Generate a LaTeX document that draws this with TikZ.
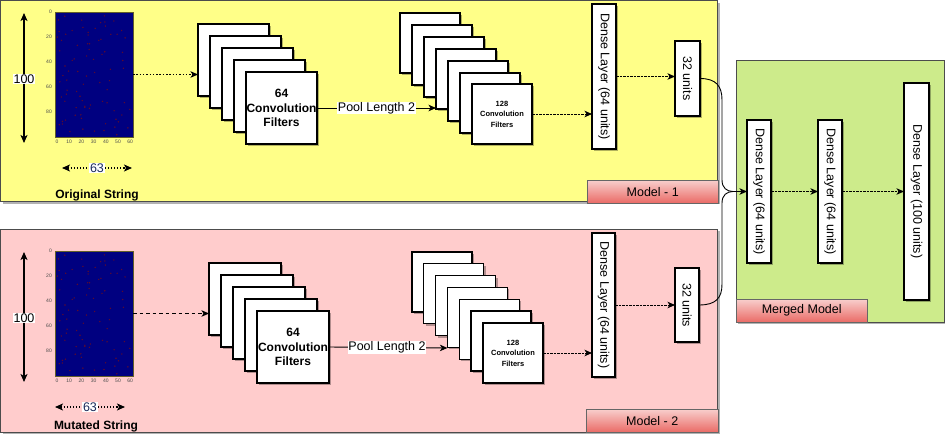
\documentclass[tikz,border=0pt]{standalone}
\usepackage{fontspec}
\setmainfont{Liberation Sans}
\usetikzlibrary{arrows.meta,shadows}
\definecolor{ylw}{HTML}{FFFF88}
\definecolor{pnk}{HTML}{FFCCCC}
\definecolor{grn}{HTML}{CDEB8B}
\definecolor{hmnavy}{HTML}{000080}
\definecolor{dred}{HTML}{5A0A30}
\definecolor{lbltop}{HTML}{F8CECC}
\definecolor{lblbot}{HTML}{EA6B66}
\definecolor{numblue}{HTML}{1A2A5A}
\newcommand\fmain{\fontsize{12.5}{14}\selectfont}
\newcommand\fbold{\fontsize{12}{14.5}\selectfont\bfseries}
\newcommand\fsmall{\fontsize{7.5}{10.5}\selectfont\bfseries}
\newcommand\ftick{\fontsize{5}{6}\selectfont}
\begin{document}
\begin{tikzpicture}[x=1pt,y=-1pt,
  panel/.style={draw=black!70, line width=0.9pt, anchor=north west, inner sep=0pt, outer sep=0pt,
    drop shadow={shadow xshift=2pt, shadow yshift=-2pt, fill=black, opacity=0.3}},
  cbox/.style={draw=black, fill=white, line width=1.1pt, anchor=north west, inner sep=0pt, outer sep=0pt,
    drop shadow={shadow xshift=2pt, shadow yshift=-2pt, fill=black, opacity=0.3}},
  lbl/.style={draw=black!60, top color=lbltop, bottom color=lblbot, anchor=north west, inner sep=0pt, font=\fmain},
  arr/.style={-{Stealth[length=7.5pt,width=6.5pt,inset=2pt]}, line width=0.9pt},
  dimarr/.style={{Stealth[length=8pt,width=7pt,inset=2pt]}-{Stealth[length=8pt,width=7pt,inset=2pt]}, line width=1.1pt},
  fdash/.style={dash pattern=on 2.5pt off 1pt},
  numlbl/.style={fill=white, inner sep=1pt, font=\fmain},
  heat/.style={draw=olive!60!black, line width=0.6pt, fill=hmnavy, anchor=north west, inner sep=0pt, outer sep=0pt},
  vtext/.style={rotate=-90, font=\fmain, inner sep=0pt}
]
\useasboundingbox (0,0) rectangle (945,434);

% ---------- panels ----------
\node[panel, fill=ylw, minimum width=717, minimum height=201] (p1) at (0.5,0.5) {};
\node[panel, fill=pnk, minimum width=717, minimum height=203] (p2) at (0.5,229) {};
\node[panel, fill=grn, minimum width=208, minimum height=262] (p3) at (736,60) {};
\node[lbl, minimum width=131, minimum height=23] (l1) at (587,180) {Model - 1};
\node[lbl, minimum width=132, minimum height=23] (l2) at (586,409) {Model - 2};
\node[lbl, minimum width=131, minimum height=23] (l3) at (736,299) {Merged Model};

% ---------- heatmaps ----------
\foreach \oy/\hn in {0/hma, 239/hmb}{
  \node[heat, minimum width=78, minimum height=125] (\hn) at (55,12+\oy) {};
  \pgfmathsetseed{7}
  \foreach \k in {1,...,85}{
    \pgfmathsetmacro\dx{57+74*rnd}
    \pgfmathsetmacro\dy{14+\oy+121*rnd}
    \fill[dred] (\dx,\dy) circle (0.8);
  }
  \foreach \t/\ty in {0/12,20/37,40/62,60/87,80/112}{
    \node[font=\ftick, text=black!70, anchor=east, inner sep=1pt] at (53,\ty+\oy) {\t};
  }
  \foreach \t/\i in {0/0,10/1,20/2,30/3,40/4,50/5,60/6}{
    \node[font=\ftick, text=black!70, inner sep=1pt] at (57+12.2*\i,142+\oy) {\t};
  }
}

% dimension arrows
\coordinate (va1) at (24,13); \coordinate (va2) at (24,143);
\draw[dimarr] (va1) -- (va2);
\node[numlbl] (n100a) at (24,79) {100};
\coordinate (ha1) at (62,168); \coordinate (ha2) at (132,168);
\draw[dimarr, dotted] (ha1) -- (ha2);
\node[numlbl, text=numblue] (n63a) at (97,168) {63};
\node[font=\fbold] (osa) at (97,195) {Original String};

\coordinate (vb1) at (24,252); \coordinate (vb2) at (24,382);
\draw[dimarr] (vb1) -- (vb2);
\node[numlbl] (n100b) at (24,318) {100};
\coordinate (hb1) at (55,407); \coordinate (hb2) at (125,407);
\draw[dimarr, dotted] (hb1) -- (hb2);
\node[numlbl, text=numblue] (n63b) at (90,407) {63};
\node[font=\fbold] (osb) at (96,426) {Mutated String};

% ---------- model 1 ----------
\foreach \i/\n in {0/a,1/b,2/c,3/d}{
  \node[cbox, minimum width=71, minimum height=72] (ca\n) at ({198+12*\i},{24+12*\i}) {};
}
\node[cbox, minimum width=71, minimum height=72, align=center, font=\fbold] (cae) at (246,72) {64\\Convolution\\Filters};
\foreach \i/\n in {0/a,1/b,2/c,3/d,4/e,5/f}{
  \node[cbox, minimum width=60, minimum height=60] (sa\n) at ({400+12*\i},{13+12*\i}) {};
}
\node[cbox, minimum width=60, minimum height=60, align=center, font=\fsmall] (sag) at (472,84) {128\\Convolution\\Filters};
\node[cbox, minimum width=24, minimum height=145] (da) at (592,4) {};
\node[vtext] (dat) at (da.center) {Dense Layer (64 units)};
\node[cbox, minimum width=25, minimum height=75] (ua) at (675,41) {};
\node[vtext] (uat) at (ua.center) {32 units};

\draw[arr, dash pattern=on 1.5pt off 1.8pt] (hma.east) -- (hma.east -| caa.west);
\draw[arr] (cae.east) -- node[fill=white, inner sep=0.5pt, font=\fmain] (pla) {Pool Length 2} (cae.east -| sad.west);
\draw[arr, fdash] (sag.east) -- (sag.east -| da.west);
\draw[arr, fdash] (da.east) -- (da.east -| ua.west);

% ---------- model 2 ----------
\foreach \i/\n in {0/a,1/b,2/c,3/d}{
  \node[cbox, minimum width=72, minimum height=72] (cb\n) at ({209+12*\i},{263+12*\i}) {};
}
\node[cbox, minimum width=72, minimum height=72, align=center, font=\fbold] (cbe) at (257,311) {64\\Convolution\\Filters};
\foreach \i/\n in {0/a,1/b,2/c,3/d,4/e,5/f}{
  \node[cbox, minimum width=60, minimum height=60] (sb\n) at ({412+11.8*\i},{252+11.8*\i}) {};
}
\node[cbox, minimum width=60, minimum height=60, align=center, font=\fsmall] (sbg) at (483,323) {128\\Convolution\\Filters};
\node[cbox, minimum width=23, minimum height=144] (db) at (592,233) {};
\node[vtext] (dbt) at (db.center) {Dense Layer (64 units)};
\node[cbox, minimum width=24, minimum height=74] (ub) at (675,268) {};
\node[vtext] (ubt) at (ub.center) {32 units};

\draw[arr, dash pattern=on 3.5pt off 3pt] (hmb.east) -- (hmb.east -| cba.west);
\draw[arr] (cbe.east) -- node[fill=white, inner sep=0.5pt, font=\fmain, pos=0.49] (plb) {Pool Length 2} ([yshift=-1pt]cbe.east -| sbd.west);
\draw[arr, fdash] (sbg.east) -- (sbg.east -| db.west);
\draw[arr, fdash] (db.east) -- (db.east -| ub.west);

% ---------- merged model ----------
\node[cbox, minimum width=24, minimum height=143] (ma) at (747,120) {};
\node[vtext] (mat) at (ma.center) {Dense Layer (64 units)};
\node[cbox, minimum width=24, minimum height=143] (mb) at (818,120) {};
\node[vtext] (mbt) at (mb.center) {Dense Layer (64 units)};
\node[cbox, minimum width=25, minimum height=217] (mc) at (904,83) {};
\node[vtext] (mct) at (mc.center) {Dense Layer (100 units)};

\coordinate (jn) at (733,191.5);
\coordinate (ta) at (722,100); \coordinate (tb) at (722,180);
\coordinate (ba) at (722,284); \coordinate (bb) at (722,203);
\draw[line width=0.9pt] (ua.east) .. controls (716,78.5) and (722,86) .. (ta) -- (tb) .. controls (722,188) and (727,191.5) .. (jn);
\draw[line width=0.9pt] (ub.east) .. controls (716,305) and (722,298) .. (ba) -- (bb) .. controls (722,195) and (727,191.5) .. (jn);
\draw[arr] (jn) -- (ma.west);
\draw[arr, fdash] (ma.east) -- (mb.west);
\draw[arr, fdash] (mb.east) -- (mb.east -| mc.west);
\end{tikzpicture}
\end{document}
